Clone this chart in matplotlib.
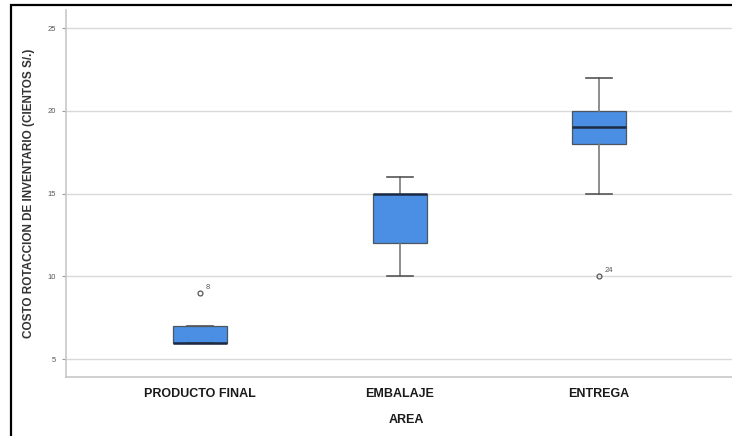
import matplotlib.pyplot as plt
from matplotlib.patches import Rectangle

# Costo de rotación por área (cientos S/.)
areas = ["PRODUCTO FINAL", "EMBALAJE", "ENTREGA"]
q1 = [6, 12, 18]
med = [6, 15, 19]
q3 = [7, 15, 20]
whis_lo = [6, 10, 15]
whis_hi = [7, 16, 22]
outliers = [[9], [], [10]]
outlier_ids = [["8"], [], ["24"]]
y_ticks = [5, 10, 15, 20, 25]

stats = []
for i, name in enumerate(areas):
    stats.append({
        "label": name, "q1": q1[i], "med": med[i], "q3": q3[i],
        "whislo": whis_lo[i], "whishi": whis_hi[i], "fliers": outliers[i],
    })

plt.rcParams["font.family"] = ["Liberation Sans Narrow", "Liberation Sans", "DejaVu Sans"]

fig = plt.figure(figsize=(7.32, 4.36), dpi=100)
ax = fig.add_axes([0.090, 0.135, 0.93, 0.842])

pos = [1, 2, 3]
ax.bxp(stats, positions=pos, widths=0.27, patch_artist=True,
       capwidths=0.13,
       boxprops=dict(facecolor="#4A8FE3", edgecolor="#4d5560", linewidth=0.9),
       medianprops=dict(color="#1c2a44", linewidth=1.8),
       whiskerprops=dict(color="#7a7a7a", linewidth=1.2),
       capprops=dict(color="#555555", linewidth=1.2),
       flierprops=dict(marker="o", markersize=3.5, markerfacecolor="none",
                       markeredgecolor="#555555", markeredgewidth=0.9),
       zorder=3)

# etiquetas de casos atípicos
for i, vals in enumerate(outliers):
    for v, lab in zip(vals, outlier_ids[i]):
        ax.annotate(lab, (pos[i], v), xytext=(4, 3), textcoords="offset points",
                    fontsize=5.5, color="#555555")

ax.set_xlim(0.327, 3.74)
ax.set_ylim(3.91, 26.09)
ax.set_yticks(y_ticks)
ax.set_yticklabels([str(t) for t in y_ticks], fontsize=5.5, color="#555555")
ax.set_xticks(pos)
ax.set_xticklabels(areas, fontsize=9, color="#1a1a1a", fontweight="bold")
ax.tick_params(axis="x", length=0, pad=8)
ax.tick_params(axis="y", length=3, color="#999999", pad=4)
ax.grid(axis="y", color="#d9d9d9", linewidth=1.0, zorder=0)
ax.set_axisbelow(True)

for side in ["top", "right"]:
    ax.spines[side].set_visible(False)
for side in ["left", "bottom"]:
    ax.spines[side].set_color("#c8c8c8")
    ax.spines[side].set_linewidth(1.2)

ax.set_xlabel("AREA", fontsize=9, color="#1a1a1a", labelpad=10, fontweight="bold")
ax.set_ylabel("COSTO ROTACCION DE INVENTARIO (CIENTOS S/.)", fontsize=8.5,
              color="#333333", labelpad=9, fontweight="bold")

# marco exterior
fig.patches.append(Rectangle((11 / 732, -0.1), 1.2, 1.1 - 5 / 436,
                             transform=fig.transFigure, fill=False,
                             edgecolor="black", linewidth=1.6, zorder=10))

fig.savefig("out.png", dpi=100)
